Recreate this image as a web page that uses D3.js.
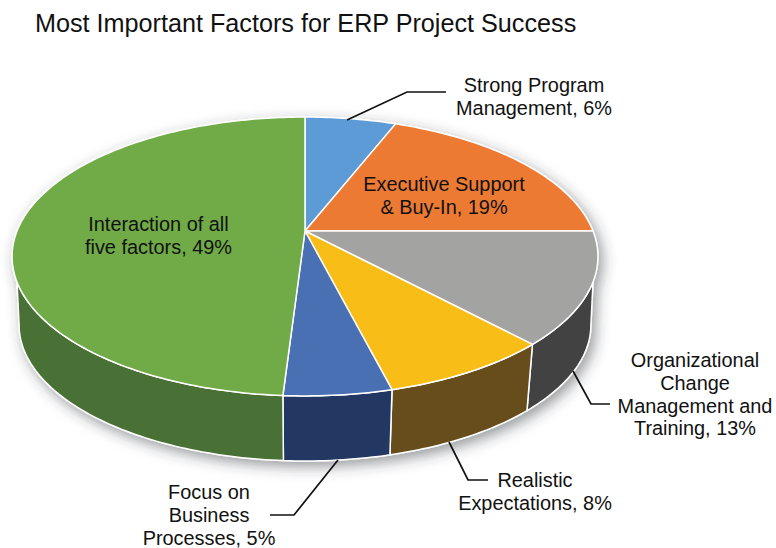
<!DOCTYPE html>
<html>
<head>
<meta charset="utf-8">
<script src="https://cdn.jsdelivr.net/npm/d3@7"></script>
<style>
	body { margin: 0; background: white; }
	text { font-family: "Liberation Sans", Arial, sans-serif; fill: #111; }
</style>
</head>
<body>
<div id="chart"></div>
<script>
const title = "Most Important Factors for ERP Project Success";
const categories = ["Strong Program Management", "Executive Support & Buy-In", "Organizational Change Management and Training", "Realistic Expectations", "Focus on Business Processes", "Interaction of all five factors"];
const shares = [6, 19, 13, 8, 5, 49];
const top_colors = ["#5b9bd5", "#ec7a33", "#a3a3a1", "#f8bd14", "#4a6fb3", "#6fab46"];
const side_colors = ["#2f5f8a", "#9c4f1c", "#434343", "#674e1f", "#203864", "#4a7035"];

const width = 776, height = 548;
const tilt = 0.1827;        // perspective of the disc
const depth_scale = 0.976;  // lower rim is a bit smaller
const rad = Math.PI / 180;

var svg = d3.select("#chart").append("svg")
	.attr("width", width)
	.attr("height", height)
	.style("display", "block")

var x = d3.scaleLinear().domain([-1, 1]).range([17, 593])
var y = d3.scaleLinear().domain([-1, 1]).range([96.2, 365.8])

// angle on the disc -> page position, lower = true for bottom rim
function project(angle, lower) {
	var u = Math.sin(angle), v = -Math.cos(angle), w = 1 - tilt * v;
	if (!lower) return [x(u / w), y(v / w)];
	return [x(depth_scale * u / w), y(depth_scale * v / w) + 69];
}
function rim(a0, a1, lower) {
	var n = Math.max(2, Math.ceil((a1 - a0) / (rad * 1)));
	return d3.range(n + 1).map(i => project(a0 + (a1 - a0) * i / n, lower));
}

var arcs = d3.pie().sort(null).value(d => d)(shares);
arcs.forEach((d, i) => { d.name = categories[i]; d.top = top_colors[i]; d.side = side_colors[i]; });

var line = d3.line();
var defs = svg.append("defs");
defs.append("filter")
	.attr("id", "shadow")
	.attr("x", "-10%").attr("y", "-10%")
	.attr("width", "120%").attr("height", "125%")
	.append("feDropShadow")
	.attr("dx", 4)
	.attr("dy", 5)
	.attr("stdDeviation", 7)
	.attr("flood-color", "#30343c")
	.attr("flood-opacity", 0.5)

var pie = svg.append("g").attr("filter", "url(#shadow)");

// side walls, only the front part shows
const top_limit = [110.7 * rad, 249.3 * rad];
const low_limit = [100.5 * rad, 259.5 * rad];

pie.selectAll("path.side")
	.data(arcs.filter(d => d.endAngle > top_limit[0] && d.startAngle < top_limit[1]))
	.join("path")
	.attr("class", "side")
	.attr("fill", d => d.side)
	.attr("stroke", "white")
	.attr("stroke-width", 1.5)
	.attr("stroke-linejoin", "round")
	.attr("d", d => {
		var upper = rim(Math.max(d.startAngle, top_limit[0]), Math.min(d.endAngle, top_limit[1]), false);
		var lower = rim(Math.max(d.startAngle, low_limit[0]), Math.min(d.endAngle, low_limit[1]), true);
		return line(upper.concat(lower.reverse())) + "Z";
	})

// top of the disc
pie.selectAll("path.slice")
	.data(arcs)
	.join("path")
	.attr("class", "slice")
	.attr("fill", d => d.top)
	.attr("stroke", "white")
	.attr("stroke-width", 1.5)
	.attr("stroke-linejoin", "round")
	.attr("d", d => line([[x(0), y(0)]].concat(rim(d.startAngle, d.endAngle, false))) + "Z")

function add_title(text) {
	svg.append("text")
		.attr("x", 35)
		.attr("y", 32)
		.style("font-size", "25.2px")
		.text(text)
}
function add_label(lines, cx, first_y, step) {
	var t = svg.append("text")
		.attr("text-anchor", "middle")
		.style("font-size", "19.9px")
	lines.forEach((s, i) => {
		t.append("tspan")
			.attr("x", cx)
			.attr("y", first_y + i * step)
			.text(s)
	})
}
function add_leader(points) {
	svg.append("path")
		.attr("d", line(points))
		.attr("fill", "none")
		.attr("stroke", "#111")
		.attr("stroke-width", 1.7)
}

add_title(title);

add_leader([[347, 120], [407, 92], [446, 92]]);
add_leader([[573, 371], [591, 404], [610, 404]]);
add_leader([[449, 442], [468, 480], [488, 480]]);
add_leader([[338, 460], [294, 515], [270, 515]]);

add_label(["Strong Program", "Management, 6%"], 534, 91.5, 23);
add_label(["Executive Support", "& Buy-In, 19%"], 444, 191, 23);
add_label(["Interaction of all", "five factors, 49%"], 158.5, 231, 23);
add_label(["Organizational", "Change", "Management and", "Training, 13%"], 695, 367, 22.8);
add_label(["Realistic", "Expectations, 8%"], 535, 486.5, 23);
add_label(["Focus on", "Business", "Processes, 5%"], 209, 499, 23);
</script>
</body>
</html>
